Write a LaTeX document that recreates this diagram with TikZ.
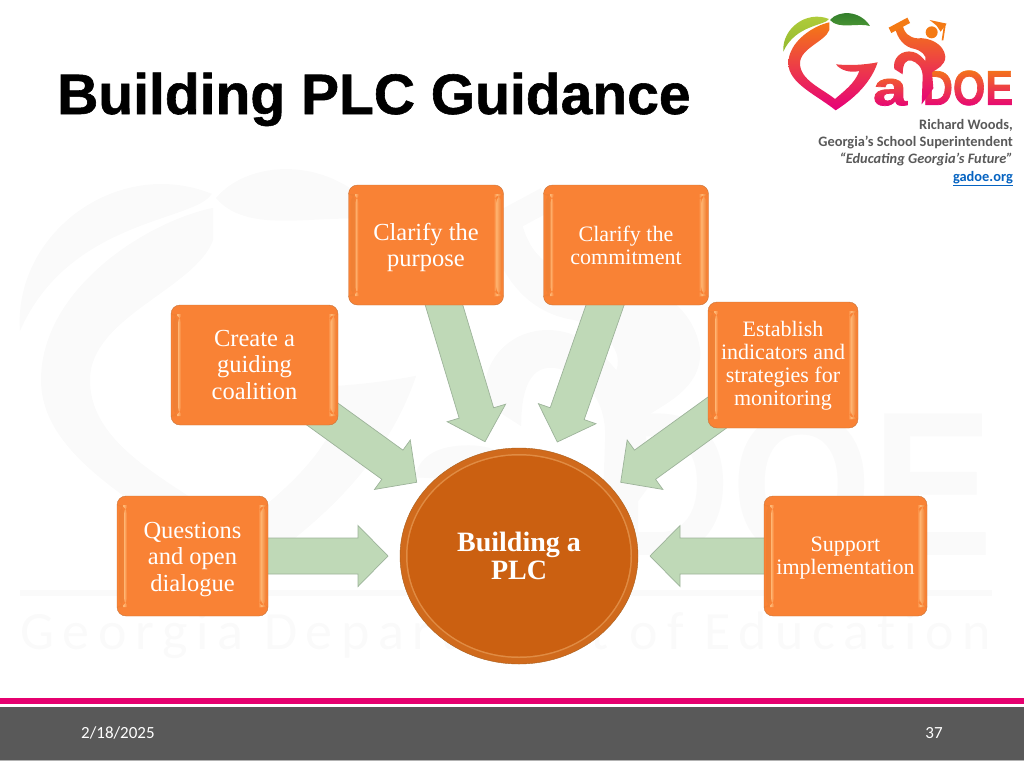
\documentclass[tikz,border=0pt]{standalone}
\usepackage{fontspec}
\setmainfont{Liberation Serif}
\newfontfamily\headfont{Liberation Sans}
\newfontfamily\calfont{Carlito}
\usetikzlibrary{calc,shapes.geometric}
\pgfdeclarelayer{mark}
\pgfdeclarelayer{flows}
\pgfsetlayers{mark,flows,main}
\definecolor{boxorange}{HTML}{F98235}
\definecolor{boxband}{HTML}{F07F33}
\definecolor{boxedge}{HTML}{C8743A}
\definecolor{boxshine}{HTML}{FFB673}
\definecolor{hubfill}{HTML}{CB6011}
\definecolor{hubband}{HTML}{D06A1C}
\definecolor{hubring}{HTML}{E08C44}
\definecolor{hubedge}{HTML}{A8601F}
\definecolor{flowfill}{HTML}{BFD9B7}
\definecolor{flowedge}{HTML}{9DB39A}
\definecolor{barpink}{HTML}{E6006F}
\definecolor{bargray}{HTML}{595959}
\definecolor{logoorange}{HTML}{F47A14}
\definecolor{logopink}{HTML}{E6007A}
\definecolor{limetop}{HTML}{B4CF3C}
\definecolor{limelow}{HTML}{93B92F}
\definecolor{leaftop}{HTML}{2F7A2B}
\definecolor{leaflow}{HTML}{4E9A35}
\definecolor{markgray}{HTML}{FAFAFA}
% light strips on the sides of a box
\newcommand{\boxbevel}{%
  \shade[left color=boxband,right color=boxshine] ([xshift=2pt,yshift=9pt]path picture bounding box.south west) rectangle ([xshift=7.3pt,yshift=-9pt]path picture bounding box.north west);
  \shade[left color=boxshine,right color=boxorange] ([xshift=7pt,yshift=9pt]path picture bounding box.south west) rectangle ([xshift=10pt,yshift=-9pt]path picture bounding box.north west);
  \shade[left color=boxshine,right color=boxband] ([xshift=-7.3pt,yshift=9pt]path picture bounding box.south east) rectangle ([xshift=-2pt,yshift=-9pt]path picture bounding box.north east);
  \shade[left color=boxorange,right color=boxshine] ([xshift=-10pt,yshift=9pt]path picture bounding box.south east) rectangle ([xshift=-7pt,yshift=-9pt]path picture bounding box.north east);
}
% block arrow from a box to a free tip
\newcommand{\flowarrow}[2]{%
  \coordinate (neck) at ($(#2)!30pt!(#1)$);
  \draw[flow] ($(#1)!18pt!90:(#2)$) -- ($(neck)!18pt!90:(#2)$) -- ($(neck)!30.5pt!90:(#2)$) -- (#2)
    -- ($(neck)!30.5pt!-90:(#2)$) -- ($(neck)!18pt!-90:(#2)$) -- ($(#1)!18pt!-90:(#2)$) -- cycle;
}
% first line pushed down a little
\newcommand{\lift}[1]{\rule{0pt}{#1}}
% shapes of the logo, in the units of one crop of it
\newcommand{\logoart}{%
  \path[heart] (148,52) .. controls (100,62) and (25,110) .. (25,175) .. controls (25,235) and (110,270) .. (167,316)
    .. controls (215,285) and (270,240) .. (293,172) .. controls (250,180) and (210,182) .. (168,178)
    .. controls (180,195) and (210,205) .. (238,198) .. controls (225,235) and (190,260) .. (165,282)
    .. controls (125,250) and (60,225) .. (60,175) .. controls (60,130) and (135,110) .. (148,75) -- cycle;
  \path[leafA] (10,140) .. controls (5,70) and (80,15) .. (147,42) .. controls (135,62) and (45,60) .. (10,140) -- cycle;
  \path[leafB] (150,45) .. controls (175,15) and (240,15) .. (270,63) .. controls (235,52) and (175,75) .. (150,45) -- cycle;
  \path[body] (367,56) .. controls (372,85) and (388,98) .. (412,100) .. controls (445,96) and (492,115) .. (496,155)
    .. controls (496,182) and (470,192) .. (456,202) -- (460,250) -- (425,298) -- (428,215)
    .. controls (428,185) and (410,172) .. (395,167) .. controls (378,163) and (368,175) .. (368,208) -- (343,192)
    .. controls (336,160) and (365,132) .. (400,141) .. controls (415,145) and (425,155) .. (436,168)
    .. controls (442,150) and (420,136) .. (405,132) .. controls (372,127) and (352,100) .. (345,68) -- cycle;
  \path[figure] (326,68) -- (382,38) -- (390,54) -- (334,84) -- cycle;
  \path[figure] (455,82) circle [radius=18];
  \path[figure] (449,45) -- (500,56) -- (482,80) -- (470,62) -- cycle;
  \path[figure] (492,58) -- (497,60) -- (490,106) -- (485,106) -- cycle;
}
\tikzset{main/.style = {draw=boxedge, fill=boxorange, rounded corners=9pt, align=center, text=white, inner sep=0pt, path picture={\boxbevel}},
  bigtext/.style = {font=\fontsize{24.5}{26.5}\selectfont},
  smalltext/.style = {font=\fontsize{22}{23}\selectfont},
  hub/.style = {ellipse, draw=hubedge, fill=hubband, align=center, text=white, inner sep=0pt, font=\bfseries\fontsize{28}{28}\selectfont,
    minimum width=238pt, minimum height=216pt,
    path picture={\fill[hubring] (path picture bounding box.center) ellipse [x radius=113, y radius=102];
      \fill[hubfill] (path picture bounding box.center) ellipse [x radius=111.5, y radius=100.5];}},
  flow/.style = {draw=flowedge, fill=flowfill, line width=.7pt, line join=miter},
  foot/.style = {text=white, font=\calfont\fontsize{17}{17}\selectfont}}
\begin{document}
\begin{tikzpicture}[x=1pt, y=-1pt]
  \useasboundingbox (0,0) rectangle (1024,768);
  % faint copy of the logo behind everything
  \begin{pgfonlayer}{mark}
    \begin{scope}[shift={(6,135)}, scale=1.4, heart/.style={fill=markgray}, leafA/.style={fill=markgray}, leafB/.style={fill=markgray}, figure/.style={fill=markgray}, body/.style={fill=markgray}]
      \logoart
      \node (marka) [transform shape, text=markgray, xscale=1.15, font=\headfont\bfseries\fontsize{147}{147}\selectfont] at (330,262) {a};
      \node (markdoe) [transform shape, text=markgray, xscale=.88, font=\headfont\bfseries\fontsize{147}{147}\selectfont] at (565,250) {DOE};
    \end{scope}
    \fill[markgray] (20,590) rectangle (992,596);
    \node (markname) [text=markgray, anchor=base west, inner sep=0pt, font=\calfont\fontsize{54}{54}\selectfont\addfontfeatures{LetterSpace=16,Ligatures=NoCommon}] at (20,649) {Georgia Department of Education};
  \end{pgfonlayer}

  \node (title) [anchor=base west, inner sep=0pt, font=\headfont\bfseries\fontsize{57}{57}\selectfont\addfontfeatures{FakeBold=1}] at (57,114) {Building PLC Guidance};
  % letters of the logo: black text, then a gradient screened over it
  \fill[white] (860,60) rectangle (1024,112);
  \node (logoa) [xscale=1.25, inner sep=0pt, font=\headfont\bfseries\fontsize{49}{49}\selectfont\addfontfeatures{FakeBold=1.5}] at (890,92.3) {a};
  \node (logodoe) [xscale=.85, inner sep=0pt, font=\headfont\bfseries\fontsize{49}{49}\selectfont\addfontfeatures{FakeBold=1.5}] at (968,88) {DOE};
  \shade[blend mode=screen, top color=logoorange, bottom color=logopink] (870,68) rectangle (1018,108);
  \begin{scope}[shift={(780,5)}, scale=1/3,
      heart/.style={top color=logoorange, middle color=logoorange!85!logopink, bottom color=logopink},
      leafA/.style={top color=limetop, bottom color=limelow},
      leafB/.style={top color=leaftop, bottom color=leaflow},
      body/.style={top color=logoorange, middle color=logoorange, bottom color=logopink},
      figure/.style={fill=logoorange}]
    \logoart
  \end{scope}
  \node (sig) [anchor=north east, align=right, text=bargray, inner sep=0pt, font=\calfont\bfseries\fontsize{14.4}{17.3}\selectfont] at (1013,119)
    {Richard Woods,\\Georgia’s School Superintendent\\\textit{“Educating Georgia’s Future”}\\\textcolor[HTML]{0563C1}{\underline{gadoe.org}}};

  \node[main, bigtext, minimum width=155pt, minimum height=120pt] (purpose) at (426,245) {\lift{22.7pt}Clarify the\\purpose};
  \node[main, smalltext, minimum width=165pt, minimum height=120pt] (commitment) at (626,245) {Clarify the\\commitment};
  \node[main, bigtext, minimum width=167pt, minimum height=120pt] (coalition) at (254.5,365) {Create a\\guiding\\coalition};
  \node[main, smalltext, minimum width=150pt, minimum height=126pt] (indicators) at (783,365) {\lift{17pt}Establish\\indicators and\\strategies for\\monitoring};
  \node[main, bigtext, minimum width=151pt, minimum height=120pt] (questions) at (192.5,556) {\lift{22.7pt}Questions\\and open\\dialogue};
  \node[main, smalltext, minimum width=163pt, minimum height=120pt] (support) at (845.5,556) {\lift{19pt}Support\\implementation};
  \node[hub] (plc) at (519,556) {Building a\\PLC};

  \coordinate (tip1) at (485,441.7);
  \coordinate (tip2) at (557.3,442);
  \coordinate (tip3) at (416.7,482.3);
  \coordinate (tip4) at (620.7,482.3);
  \coordinate (tip5) at (388,556);
  \coordinate (tip6) at (650,556);
  \begin{pgfonlayer}{flows}
    \foreach \a/\b in {purpose/tip1, commitment/tip2, coalition/tip3, indicators/tip4, questions/tip5, support/tip6}
      \flowarrow{\a}{\b};
  \end{pgfonlayer}

  \fill[barpink] (0,698) rectangle (1024,704);
  \fill[bargray] (0,707) rectangle (1024,760);
  \fill[gray!60] (0,760) rectangle (1024,761);
  \node (date) [foot, anchor=west, inner sep=0pt] at (81,733) {2/18/2025};
  \node (page) [foot] at (934,733) {37};
\end{tikzpicture}
\end{document}
